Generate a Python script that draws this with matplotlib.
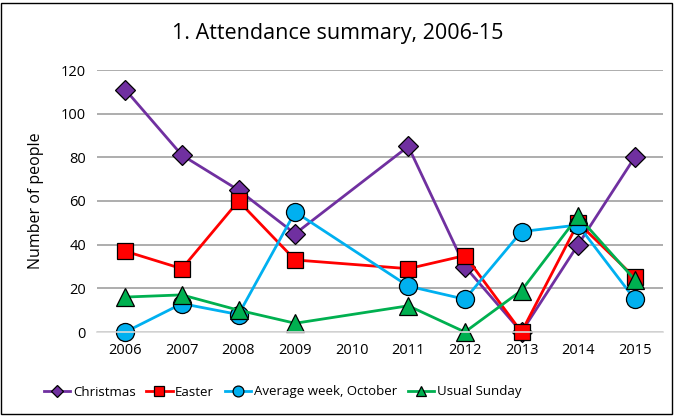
import matplotlib.pyplot as plt
import numpy as np
from matplotlib.patches import Rectangle

plt.rcParams['font.family'] = ['Open Sans', 'DejaVu Sans']

# Data (2010 has no values)
years = ["2006", "2007", "2008", "2009", "2010", "2011", "2012", "2013", "2014", "2015"]
christmas = [111, 81, 65, 45, None, 85, 30, 0, 40, 80]
easter = [37, 29, 60, 33, None, 29, 35, 0, 50, 25]
avg_week_oct = [0, 13, 8, 55, None, 21, 15, 46, 49, 15]
usual_sunday = [16, 17, 10, 4, None, 12, 0, 19, 53, 24]

series = [
    ("Christmas", christmas, "#7030A0", "D", 10),
    ("Easter", easter, "#FF0000", "s", 12),
    ("Average week, October", avg_week_oct, "#00B0F0", "o", 13),
    ("Usual Sunday", usual_sunday, "#00B050", "^", 13),
]

fig = plt.figure(figsize=(6.76, 4.2), dpi=100)
ax = fig.add_axes([97 / 676, 1 - 332 / 420, 566 / 676, 262 / 420])

x_all = np.arange(len(years))
for name, vals, color, marker, ms in series:
    xs = [x for x, v in zip(x_all, vals) if v is not None]
    ys = [v for v in vals if v is not None]
    ax.plot(xs, ys, color=color, linewidth=2, marker=marker, markersize=ms,
            markerfacecolor=color, markeredgecolor="black", markeredgewidth=0.9,
            label=name, clip_on=False)

ax.set_xlim(-0.5, len(years) - 0.5)
ax.set_ylim(0, 120)
ax.set_xticks(x_all)
ax.set_xticklabels(years)
ax.set_yticks(np.arange(0, 121, 20))
ax.tick_params(length=0, labelsize=10.5, pad=8)
ax.yaxis.grid(True, color="#A0A0A0", linewidth=1.2)
ax.set_axisbelow(True)
for s in ["top", "right", "left"]:
    ax.spines[s].set_visible(False)
ax.spines["bottom"].set_color("#D9D9D9")
ax.spines["bottom"].set_linewidth(1.2)

ax.set_ylabel("Number of people", fontsize=11.5, labelpad=12)
fig.text(0.5, 1 - 33 / 420, "1. Attendance summary, 2006-15", ha="center", va="center",
         fontsize=15.5)

fig.legend(loc="center left", bbox_to_anchor=(32 / 676, 1 - 392 / 420), ncol=4, frameon=False,
           fontsize=9.5, handlelength=2.0, columnspacing=0.8, handletextpad=0.2,
           markerscale=0.6)

fig.patches.append(Rectangle((1 / 676, 6 / 420), 671 / 676, 411 / 420, transform=fig.transFigure,
                             fill=False, edgecolor="black", linewidth=1))

fig.savefig("out.png", dpi=100)
